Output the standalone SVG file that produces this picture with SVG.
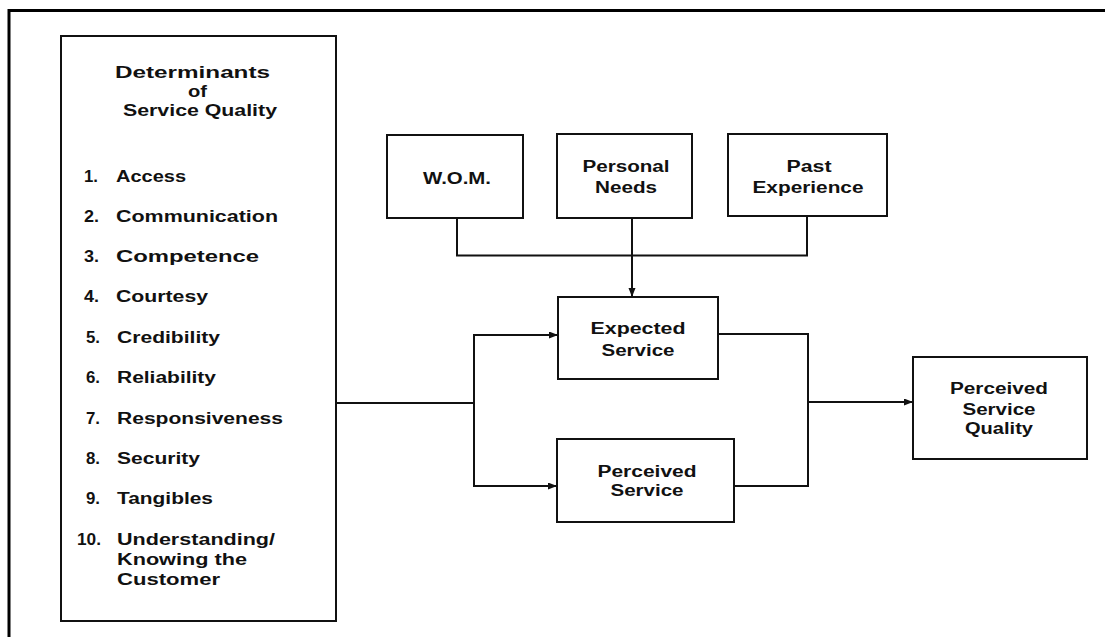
<svg xmlns="http://www.w3.org/2000/svg" width="1105" height="637" viewBox="0 0 1105 637">
<style>
.box{fill:#fff;stroke:#111;stroke-width:2}
.ln{fill:none;stroke:#111;stroke-width:2}
text{font-family:"Liberation Sans",Arial,sans-serif;font-weight:bold;font-size:16px;fill:#111}
.c{text-anchor:middle}
</style>
<defs>
<marker id="ah" markerUnits="userSpaceOnUse" markerWidth="10" markerHeight="8" refX="9" refY="3.5" orient="auto">
<path d="M0,0 L9,3.5 L0,7 z" fill="#111"/>
</marker>
</defs>
<rect width="1105" height="637" fill="#fff"/>
<g id="frame">
<path d="M9,637 V10.5 H1105" fill="none" stroke="#000" stroke-width="3"/>
</g>
<g id="determinants">
<rect class="box" x="61" y="36" width="275" height="585"/>
<text class="c" x="192.5" y="78" textLength="155" lengthAdjust="spacingAndGlyphs">Determinants</text>
<text class="c" x="197.5" y="97" textLength="19" lengthAdjust="spacingAndGlyphs">of</text>
<text class="c" x="200" y="116" textLength="154" lengthAdjust="spacingAndGlyphs">Service Quality</text>
<text x="84" y="182" textLength="14" lengthAdjust="spacingAndGlyphs">1.</text>
<text x="116" y="182" textLength="70" lengthAdjust="spacingAndGlyphs">Access</text>
<text x="84" y="222" textLength="15" lengthAdjust="spacingAndGlyphs">2.</text>
<text x="116" y="222" textLength="162" lengthAdjust="spacingAndGlyphs">Communication</text>
<text x="84" y="262" textLength="15" lengthAdjust="spacingAndGlyphs">3.</text>
<text x="116" y="262" textLength="143" lengthAdjust="spacingAndGlyphs">Competence</text>
<text x="84" y="302" textLength="15" lengthAdjust="spacingAndGlyphs">4.</text>
<text x="116" y="302" textLength="92" lengthAdjust="spacingAndGlyphs">Courtesy</text>
<text x="86" y="343" textLength="14" lengthAdjust="spacingAndGlyphs">5.</text>
<text x="117" y="343" textLength="103" lengthAdjust="spacingAndGlyphs">Credibility</text>
<text x="86" y="383" textLength="14" lengthAdjust="spacingAndGlyphs">6.</text>
<text x="117" y="383" textLength="99" lengthAdjust="spacingAndGlyphs">Reliability</text>
<text x="86" y="424" textLength="14" lengthAdjust="spacingAndGlyphs">7.</text>
<text x="117" y="424" textLength="166" lengthAdjust="spacingAndGlyphs">Responsiveness</text>
<text x="86" y="464" textLength="14" lengthAdjust="spacingAndGlyphs">8.</text>
<text x="117" y="464" textLength="83" lengthAdjust="spacingAndGlyphs">Security</text>
<text x="86" y="504" textLength="14" lengthAdjust="spacingAndGlyphs">9.</text>
<text x="117" y="504" textLength="96" lengthAdjust="spacingAndGlyphs">Tangibles</text>
<text x="77" y="545" textLength="24" lengthAdjust="spacingAndGlyphs">10.</text>
<text x="117" y="545" textLength="158" lengthAdjust="spacingAndGlyphs">Understanding/</text>
<text x="117" y="565" textLength="130" lengthAdjust="spacingAndGlyphs">Knowing the</text>
<text x="117" y="585" textLength="103" lengthAdjust="spacingAndGlyphs">Customer</text>
</g>
<g id="wom">
<rect class="box" x="387" y="135" width="136" height="83"/>
<text class="c" x="457" y="184" textLength="68" lengthAdjust="spacingAndGlyphs">W.O.M.</text>
</g>
<g id="personal-needs">
<rect class="box" x="557" y="134" width="135" height="84"/>
<text class="c" x="626" y="172" textLength="87" lengthAdjust="spacingAndGlyphs">Personal</text>
<text class="c" x="626" y="193" textLength="62" lengthAdjust="spacingAndGlyphs">Needs</text>
</g>
<g id="past-experience">
<rect class="box" x="728" y="134" width="159" height="82"/>
<text class="c" x="809" y="172" textLength="45" lengthAdjust="spacingAndGlyphs">Past</text>
<text class="c" x="808" y="193" textLength="111" lengthAdjust="spacingAndGlyphs">Experience</text>
</g>
<g id="expected-service">
<rect class="box" x="558" y="297" width="160" height="82"/>
<text class="c" x="638" y="334" textLength="95" lengthAdjust="spacingAndGlyphs">Expected</text>
<text class="c" x="638" y="356" textLength="73" lengthAdjust="spacingAndGlyphs">Service</text>
</g>
<g id="perceived-service">
<rect class="box" x="557" y="439" width="177" height="83"/>
<text class="c" x="647" y="477" textLength="99" lengthAdjust="spacingAndGlyphs">Perceived</text>
<text class="c" x="647" y="496" textLength="73" lengthAdjust="spacingAndGlyphs">Service</text>
</g>
<g id="perceived-service-quality">
<rect class="box" x="913" y="357" width="174" height="102"/>
<text class="c" x="999" y="394" textLength="98" lengthAdjust="spacingAndGlyphs">Perceived</text>
<text class="c" x="999" y="415" textLength="73" lengthAdjust="spacingAndGlyphs">Service</text>
<text class="c" x="999" y="434" textLength="68" lengthAdjust="spacingAndGlyphs">Quality</text>
</g>
<g id="connectors">
<path class="ln" d="M457,218 V255.5 H807 V216"/>
<path class="ln" d="M632,218 V297" marker-end="url(#ah)"/>
<path class="ln" d="M336,403 H474"/>
<path class="ln" d="M474,403 V335 H558" marker-end="url(#ah)"/>
<path class="ln" d="M474,403 V486 H557" marker-end="url(#ah)"/>
<path class="ln" d="M718,334 H808 V486 H734"/>
<path class="ln" d="M808,402 H913" marker-end="url(#ah)"/>
</g>
</svg>
